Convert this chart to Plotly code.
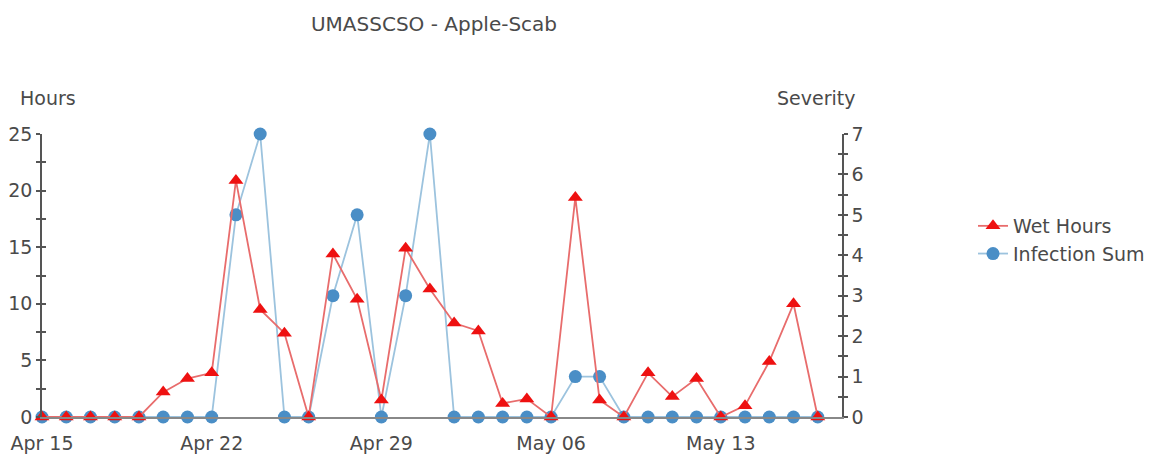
import plotly.graph_objects as go
import pandas as pd

dates = pd.date_range("2019-04-15", "2019-05-17", freq="D").strftime("%Y-%m-%d").tolist()

wet_hours = [0, 0, 0, 0, 0, 2.2, 3.4, 3.9, 20.9, 9.5, 7.4, 0, 14.4, 10.4, 1.5, 14.9,
             11.3, 8.3, 7.6, 1.2, 1.6, 0, 19.4, 1.5, 0, 3.9, 1.8, 3.4, 0, 1.0, 4.9, 10.0, 0]
infection_sum = [0, 0, 0, 0, 0, 0, 0, 0, 5, 7, 0, 0, 3, 5, 0, 3,
                 7, 0, 0, 0, 0, 0, 1, 1, 0, 0, 0, 0, 0, 0, 0, 0, 0]

title_text = "UMASSCSO - Apple-Scab"
left_title = "Hours"
right_title = "Severity"
tick_dates = ["2019-04-15", "2019-04-22", "2019-04-29", "2019-05-06", "2019-05-13"]

FONT = "DejaVu Sans"
TXT = "#4a4a4a"
FS = 19

# page body has an 8px margin; plot area on page: x 42..842, y 134..417
fig = go.Figure()
# invisible carriers so the inside-tick overlay axes are rendered (ticks cross the axis lines)
fig.add_trace(go.Scatter(x=dates, y=infection_sum, yaxis="y3", mode="none",
                         showlegend=False, hoverinfo="skip"))
fig.add_trace(go.Scatter(x=dates, y=wet_hours, yaxis="y4", mode="none",
                         showlegend=False, hoverinfo="skip"))
fig.add_trace(go.Scatter(
    x=dates, y=infection_sum, name="Infection Sum", yaxis="y",
    mode="lines+markers",
    line=dict(color="#9cc3de", width=1.8),
    marker=dict(symbol="circle", size=13, color="#4a8ec6"),
    cliponaxis=False,
))
fig.add_trace(go.Scatter(
    x=dates, y=wet_hours, name="Wet Hours", yaxis="y2",
    mode="lines+markers",
    line=dict(color="#e86c6c", width=1.8),
    marker=dict(symbol="triangle-up", size=13, color="#ee1111"),
    cliponaxis=False,
))

axis_common = dict(showgrid=False, zeroline=False, showline=True, linecolor="#555",
                   linewidth=1.5, tickfont=dict(family=FONT, size=FS, color=TXT),
                   ticks="outside", ticklen=4, tickwidth=1.5, tickcolor="#555",
                   automargin=False)

fig.update_layout(
    width=1170, height=462,
    margin=dict(l=34, r=336, t=126, b=53),
    paper_bgcolor="white", plot_bgcolor="white",
    font=dict(family=FONT, size=FS, color=TXT),
    title=dict(text=title_text, x=0.49, xref="paper", y=1 - 16 / 462, yanchor="middle",
               font=dict(family=FONT, size=20, color=TXT), automargin=False),
    xaxis=dict(type="date", range=["2019-04-15", "2019-05-18"],
               tickvals=tick_dates, tickformat="%b %d",
               showgrid=False, zeroline=False, showline=True, linecolor="#888", linewidth=1.5,
               ticks="", ticklabelstandoff=8, automargin=False,
               tickfont=dict(family=FONT, size=FS, color=TXT)),
    yaxis=dict(range=[0, 7], side="right", tickvals=[0, 1, 2, 3, 4, 5, 6, 7],
               minor=dict(dtick=0.5, ticks="outside", ticklen=4, tickwidth=1.5, tickcolor="#555"),
               **axis_common),
    yaxis2=dict(range=[0, 25], side="left", overlaying="y", tickvals=[0, 5, 10, 15, 20, 25],
                minor=dict(dtick=2.5, ticks="outside", ticklen=4, tickwidth=1.5, tickcolor="#555"),
                **axis_common),
    yaxis3=dict(range=[0, 7], side="right", overlaying="y", showticklabels=False,
                showgrid=False, zeroline=False, showline=False, dtick=0.5, automargin=False,
                ticks="inside", ticklen=4, tickwidth=1.5, tickcolor="#555"),
    yaxis4=dict(range=[0, 25], side="left", overlaying="y", showticklabels=False,
                showgrid=False, zeroline=False, showline=False, dtick=2.5, automargin=False,
                ticks="inside", ticklen=4, tickwidth=1.5, tickcolor="#555"),
    legend=dict(x=(973 - 42) / 800, xanchor="left", y=(417 - 240) / 283, yanchor="middle",
                traceorder="reversed", font=dict(family=FONT, size=FS, color=TXT),
                bgcolor="rgba(0,0,0,0)", tracegroupgap=0),
    annotations=[
        dict(text=left_title, xref="paper", yref="paper", x=-0.03, y=(417 - 98) / 283,
             xanchor="left", yanchor="middle", showarrow=False,
             font=dict(family=FONT, size=FS, color=TXT)),
        dict(text=right_title, xref="paper", yref="paper", x=(857 - 42) / 800, y=(417 - 98) / 283,
             xanchor="right", yanchor="middle", showarrow=False,
             font=dict(family=FONT, size=FS, color=TXT)),
    ],
)

fig.write_html("out.html")
